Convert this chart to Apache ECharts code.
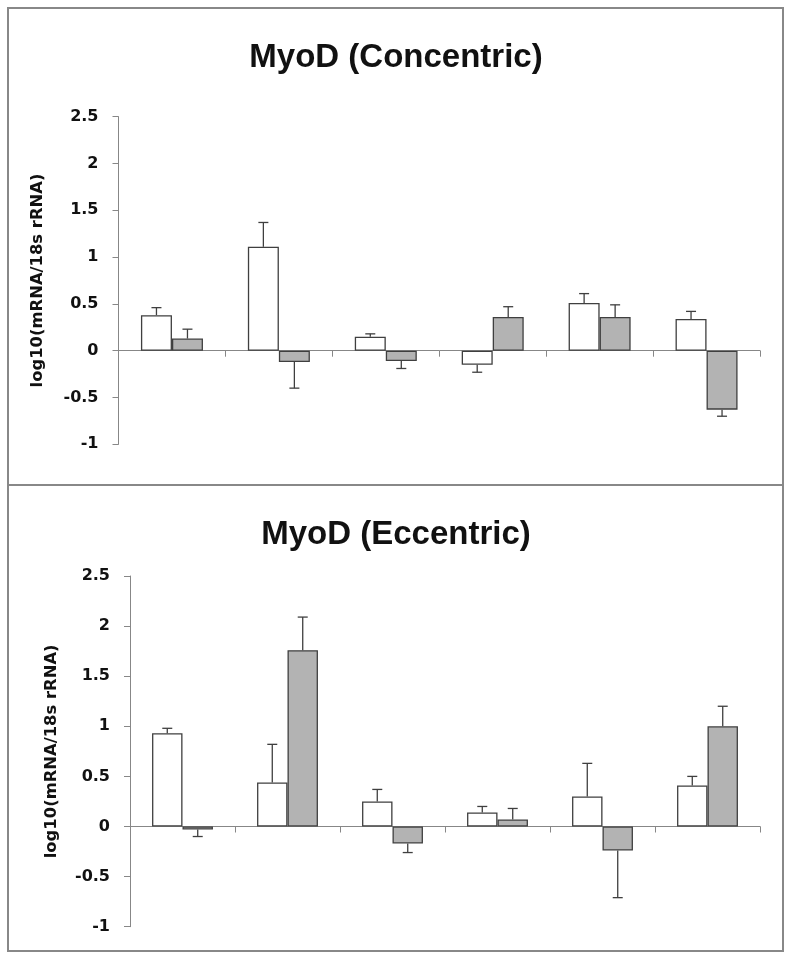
<!DOCTYPE html>
<html>
<head>
<meta charset="utf-8">
<script src="https://cdn.jsdelivr.net/npm/echarts@6/dist/echarts.min.js"></script>
<style>
html,body{margin:0;padding:0;background:#fff;}
#chart{width:792px;height:958px;}
</style>
</head>
<body>
<div id="chart"></div>
<script>
// ---- data ----
const categories = ['1', '2', '3', '4', '5', '6'];
const yTicks = [-1, -0.5, 0, 0.5, 1, 1.5, 2, 2.5];

const titleTop = 'MyoD (Concentric)';
const titleBottom = 'MyoD (Eccentric)';
const yAxisName = 'log10(mRNA/18s rRNA)';

// Concentric panel
const concWhite = [0.38, 1.11, 0.15, -0.15, 0.51, 0.34];
const concWhiteErr = [0.08, 0.26, 0.03, 0.08, 0.10, 0.08];
const concGray = [0.13, -0.12, -0.11, 0.36, 0.36, -0.63];
const concGrayErr = [0.10, 0.28, 0.08, 0.11, 0.13, 0.07];

// Eccentric panel
const eccWhite = [0.93, 0.44, 0.25, 0.14, 0.30, 0.41];
const eccWhiteErr = [0.05, 0.38, 0.12, 0.06, 0.33, 0.09];
const eccGray = [-0.03, 1.76, -0.17, 0.07, -0.24, 1.00];
const eccGrayErr = [0.07, 0.33, 0.09, 0.11, 0.47, 0.20];

// ---- chart ----
const BAR_FRAC = 0.29;
const axisGray = '#878787';
const edge = '#3f3f3f';

function errData(vals, errs) {
  return vals.map((v, i) => [i, v, errs[i]]);
}
function errSeries(vals, errs, grid, side) {
  return {
    type: 'custom',
    xAxisIndex: grid, yAxisIndex: grid,
    z: 5,
    silent: true,
    data: errData(vals, errs),
    renderItem: function (params, api) {
      const idx = api.value(0), v = api.value(1), e = api.value(2);
      const end = v >= 0 ? v + e : v - e;
      const band = api.size([1, 0])[0];
      const off = side * band * BAR_FRAC / 2;
      const p0 = api.coord([idx, v]);
      const p1 = api.coord([idx, end]);
      const x = p0[0] + off;
      const cap = 5;
      const style = { stroke: edge, lineWidth: 1.3, fill: null };
      return {
        type: 'group',
        children: [
          { type: 'line', shape: { x1: x, y1: p0[1], x2: x, y2: p1[1] }, style: style },
          { type: 'line', shape: { x1: x - cap, y1: p1[1], x2: x + cap, y2: p1[1] }, style: style }
        ]
      };
    }
  };
}
function barSeries(vals, grid, color) {
  return {
    type: 'bar',
    xAxisIndex: grid, yAxisIndex: grid,
    data: vals,
    barWidth: (BAR_FRAC * 100) + '%',
    barGap: '0%',
    itemStyle: { color: color, borderColor: edge, borderWidth: 1.3 },
    silent: true
  };
}
function xAx(grid) {
  return {
    type: 'category', gridIndex: grid, data: categories,
    axisLine: { onZero: true, lineStyle: { color: axisGray, width: 1 } },
    axisTick: { show: true, length: 6, lineStyle: { color: axisGray } },
    axisLabel: { show: false },
    splitLine: { show: false }
  };
}
function yAx(grid, gap) {
  return {
    type: 'value', gridIndex: grid,
    min: yTicks[0], max: yTicks[yTicks.length - 1], interval: 0.5,
    name: yAxisName, nameLocation: 'middle', nameRotate: 90, nameGap: gap,
    nameTextStyle: { fontFamily: 'DejaVu Sans', fontWeight: 'bold', fontSize: 16.4, color: '#111' },
    axisLine: { show: true, lineStyle: { color: axisGray, width: 1 } },
    axisTick: { show: true, length: 6, lineStyle: { color: axisGray } },
    axisLabel: { fontFamily: 'DejaVu Sans', fontWeight: 'bold', fontSize: 16, color: '#111', margin: 20 },
    splitLine: { show: false }
  };
}

const chart = echarts.init(document.getElementById('chart'), null, { renderer: 'canvas' });
chart.setOption({
  backgroundColor: '#fff',
  animation: false,
  title: [
    { text: titleTop, left: 'center', top: 36, textStyle: { fontFamily: 'Liberation Sans', fontWeight: 'bold', fontSize: 33, color: '#111' } },
    { text: titleBottom, left: 'center', top: 513, textStyle: { fontFamily: 'Liberation Sans', fontWeight: 'bold', fontSize: 33, color: '#111' } }
  ],
  graphic: [
    { type: 'rect', shape: { x: 8, y: 8, width: 775, height: 477 }, style: { fill: null, stroke: '#888', lineWidth: 2 }, z: 10 },
    { type: 'rect', shape: { x: 8, y: 485, width: 775, height: 466 }, style: { fill: null, stroke: '#888', lineWidth: 2 }, z: 10 }
  ],
  grid: [
    { left: 118.5, top: 116.7, width: 641.5, height: 327.6 },
    { left: 130, top: 576, width: 630, height: 350.7 }
  ],
  xAxis: [xAx(0), xAx(1)],
  yAxis: [yAx(0, 73), yAx(1, 70)],
  series: [
    barSeries(concWhite, 0, '#ffffff'),
    barSeries(concGray, 0, '#b3b3b3'),
    errSeries(concWhite, concWhiteErr, 0, -1),
    errSeries(concGray, concGrayErr, 0, 1),
    barSeries(eccWhite, 1, '#ffffff'),
    barSeries(eccGray, 1, '#b3b3b3'),
    errSeries(eccWhite, eccWhiteErr, 1, -1),
    errSeries(eccGray, eccGrayErr, 1, 1)
  ]
});
</script>
</body>
</html>
